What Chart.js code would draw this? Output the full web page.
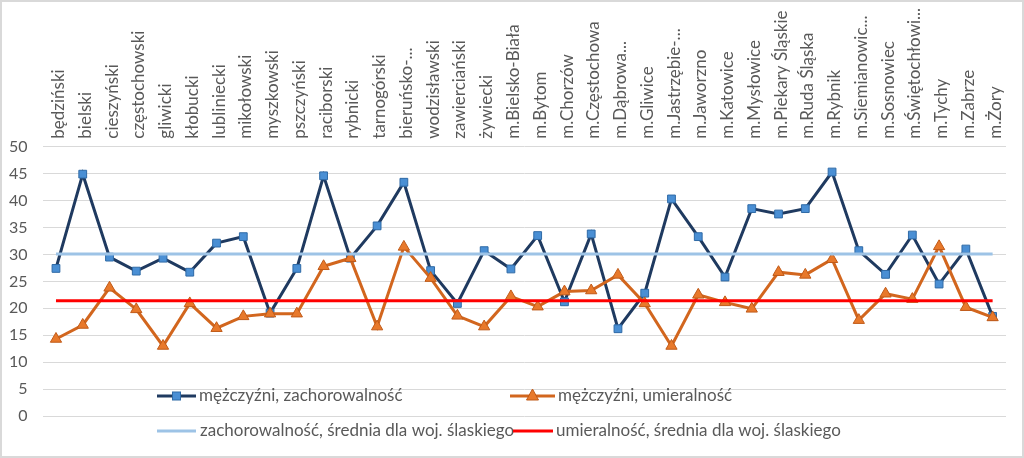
<!DOCTYPE html>
<html>
<head>
<meta charset="utf-8">
<script src="https://cdn.jsdelivr.net/npm/chart.js@4"></script>
<style>
  html, body { margin: 0; padding: 0; background: #fff; }
  #wrap { width: 1024px; height: 458px; box-sizing: border-box; border: 2px solid #d9d9d9; }
</style>
</head>
<body>
<div id="wrap"><canvas id="chart" width="1020" height="454"></canvas></div>
<script>
const powiaty = ['będziński', 'bielski', 'cieszyński', 'częstochowski', 'gliwicki', 'kłobucki',
  'lubliniecki', 'mikołowski', 'myszkowski', 'pszczyński', 'raciborski', 'rybnicki',
  'tarnogórski', 'bieruńsko-...', 'wodzisławski', 'zawierciański', 'żywiecki', 'm.Bielsko-Biała',
  'm.Bytom', 'm.Chorzów', 'm.Częstochowa', 'm.Dąbrowa...', 'm.Gliwice', 'm.Jastrzębie-...',
  'm.Jaworzno', 'm.Katowice', 'm.Mysłowice', 'm.Piekary Śląskie', 'm.Ruda Śląska', 'm.Rybnik',
  'm.Siemianowic...', 'm.Sosnowiec', 'm.Świętochłowi...', 'm.Tychy', 'm.Zabrze', 'm.Żory'];

const zachorowalnosc = [27.4, 44.9, 29.5, 26.9, 29.3, 26.7, 32.1, 33.3, 19.1, 27.4, 44.6, 29.3,
  35.3, 43.4, 27.0, 20.9, 30.7, 27.3, 33.5, 21.2, 33.8, 16.2, 22.8, 40.3,
  33.3, 25.8, 38.5, 37.5, 38.5, 45.3, 30.7, 26.3, 33.6, 24.5, 31.0, 18.5];

const umieralnosc = [14.3, 16.9, 23.8, 19.8, 13.0, 20.9, 16.3, 18.5, 19.0, 19.0, 27.8, 29.3,
  16.6, 31.4, 25.6, 18.6, 16.6, 22.2, 20.3, 23.1, 23.3, 26.2, 20.9, 13.0,
  22.5, 21.1, 19.9, 26.7, 26.2, 29.1, 17.8, 22.7, 21.7, 31.5, 20.2, 18.3];

const sredniaZach = 30.1;
const sredniaUmier = 21.4;

const yTicks = [0, 5, 10, 15, 20, 25, 30, 35, 40, 45, 50];

const FONT = 'Lato, "Open Sans", sans-serif';
const textColor = '#595959';

// legend drawn over the plot like in the Excel original
const legendPlugin = {
  id: 'excelLegend',
  afterDraw(chart) {
    const ctx = chart.ctx;
    const ds = chart.data.datasets;
    const items = [
      { i: 0, x1: 155, x2: 194, tx: 197, y: 394 },
      { i: 1, x1: 508, x2: 553, tx: 556, y: 394 },
      { i: 2, x1: 155, x2: 194, tx: 198, y: 429 },
      { i: 3, x1: 511, x2: 551, tx: 554, y: 429 }
    ];
    ctx.save();
    items.forEach(it => {
      const d = ds[it.i];
      ctx.strokeStyle = d.borderColor;
      ctx.lineWidth = 3;
      ctx.beginPath();
      ctx.moveTo(it.x1, it.y);
      ctx.lineTo(it.x2, it.y);
      ctx.stroke();
      const cx = (it.x1 + it.x2) / 2;
      if (d.pointStyle === 'rect') {
        ctx.fillStyle = d.pointBackgroundColor;
        ctx.strokeStyle = d.pointBorderColor;
        ctx.lineWidth = 1;
        ctx.fillRect(cx - 4, it.y - 4, 8, 8);
        ctx.strokeRect(cx - 4, it.y - 4, 8, 8);
      } else if (d.pointStyle === 'triangle') {
        ctx.fillStyle = d.pointBackgroundColor;
        ctx.strokeStyle = d.pointBorderColor;
        ctx.lineWidth = 1;
        ctx.beginPath();
        ctx.moveTo(cx, it.y - 7);
        ctx.lineTo(cx + 6, it.y + 4);
        ctx.lineTo(cx - 6, it.y + 4);
        ctx.closePath();
        ctx.fill();
        ctx.stroke();
      }
      ctx.fillStyle = textColor;
      ctx.font = '17px ' + FONT;
      ctx.textBaseline = 'middle';
      ctx.textAlign = 'left';
      ctx.fillText(d.label, it.tx, it.y);
    });
    ctx.restore();
  }
};

const config = {
  type: 'line',
  data: {
    labels: powiaty,
    datasets: [{
      label: 'mężczyźni, zachorowalność',
      data: zachorowalnosc,
      borderColor: '#1f3a60',
      borderWidth: 3,
      pointStyle: 'rect',
      pointRadius: 5.5,
      pointBackgroundColor: '#4a8fd4',
      pointBorderColor: '#2f6aa6',
      pointBorderWidth: 1,
      tension: 0,
      order: 3
    },
    {
      label: 'mężczyźni, umieralność',
      data: umieralnosc,
      borderColor: '#d2661e',
      borderWidth: 3,
      pointStyle: 'triangle',
      pointRadius: 6.5,
      pointBackgroundColor: '#e8792b',
      pointBorderColor: '#c05a18',
      pointBorderWidth: 1,
      tension: 0,
      order: 2
    },
    {
      label: 'zachorowalność, średnia dla woj. ślaskiego',
      data: [{x: powiaty[0], y: sredniaZach}, {x: powiaty[powiaty.length - 1], y: sredniaZach}],
      borderColor: '#9dc3e6',
      borderWidth: 3,
      pointRadius: 0,
      order: 1
    },
    {
      label: 'umieralność, średnia dla woj. ślaskiego',
      data: [{x: powiaty[0], y: sredniaUmier}, {x: powiaty[powiaty.length - 1], y: sredniaUmier}],
      borderColor: '#ff0000',
      borderWidth: 3,
      pointRadius: 0,
      order: 0
    }]
  },
  options: {
    responsive: false,
    animation: false,
    layout: { padding: { left: 0, right: 16, top: 0, bottom: 40 } },
    scales: {
      x: {
        position: 'top',
        offset: true,
        grid: { display: false, drawTicks: false },
        border: { display: false },
        ticks: {
          autoSkip: false,
          minRotation: 90,
          maxRotation: 90,
          padding: 8,
          labelOffset: 23,
          color: textColor,
          font: { family: FONT, size: 17 }
        },
        afterFit(scale) { scale.height = 144.7; }
      },
      y: {
        min: 0,
        max: 50,
        afterBuildTicks(scale) { scale.ticks = yTicks.map(v => ({ value: v })); },
        grid: { color: '#d9d9d9', lineWidth: 1, drawTicks: false },
        border: { display: false },
        ticks: {
          padding: 15,
          color: textColor,
          font: { family: FONT, size: 16 }
        },
        afterFit(scale) { scale.width = 40.6; }
      }
    },
    plugins: {
      legend: { display: false },
      tooltip: { enabled: false }
    }
  },
  plugins: [legendPlugin]
};

const myChart = new Chart(document.getElementById('chart'), config);
</script>
</body>
</html>
